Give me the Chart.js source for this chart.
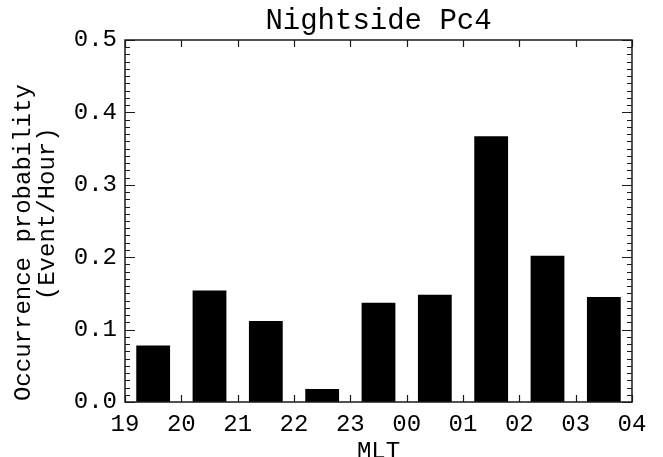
<!DOCTYPE html>
<html>
<head>
<meta charset="utf-8">
<script src="https://cdn.jsdelivr.net/npm/chart.js@4/dist/chart.umd.min.js"></script>
<style>
  html, body { margin: 0; padding: 0; background: #fff; }
  canvas { display: block; }
</style>
</head>
<body>
<canvas id="chart" width="663" height="457"></canvas>
<script>
/* ================= DATA ================= */
const hourLabels = ["19", "20", "21", "22", "23", "00", "01", "02", "03", "04"];
const binLabels = hourLabels.slice(0, -1).map((h, i) => h + "-" + hourLabels[i + 1]);
const occurrence = [0.078, 0.154, 0.112, 0.018, 0.137, 0.148, 0.367, 0.202, 0.145];

const FONT = "'Liberation Mono', 'Courier New', monospace";

/* ================= FRAME + INWARD TICKS ================= */
const frameTicks = {
  id: "frameTicks",
  afterDatasetsDraw(chart) {
    const { ctx, chartArea: a, scales } = chart;
    const y = scales.y;
    const h = scales.hours;

    ctx.save();
    ctx.strokeStyle = "#1a1a1a";
    ctx.lineWidth = 1.5;
    ctx.strokeRect(a.left, a.top, a.right - a.left, a.bottom - a.top);

    ctx.lineWidth = 1.2;
    ctx.beginPath();
    // minor every 0.01, major every 0.1
    for (let k = 0; k <= 50; k++) {
      const py = Math.round(y.getPixelForValue(k / 100)) + 0.5;
      const len = k % 10 === 0 ? 10 : 5;
      ctx.moveTo(a.left, py);  ctx.lineTo(a.left + len, py);
      ctx.moveTo(a.right, py); ctx.lineTo(a.right - len, py);
    }
    for (let i = 0; i < hourLabels.length; i++) {
      const px = Math.round(h.getPixelForValue(i)) + 0.5;
      ctx.moveTo(px, a.bottom); ctx.lineTo(px, a.bottom - 7);
      ctx.moveTo(px, a.top);    ctx.lineTo(px, a.top + 7);
    }
    ctx.stroke();
    ctx.restore();
  }
};

/* ================= CHART ================= */
new Chart(document.getElementById("chart"), {
  type: "bar",
  data: {
    labels: binLabels,
    datasets: [{
      data: occurrence,
      backgroundColor: "#000",
      borderWidth: 0,
      barPercentage: 0.6,
      categoryPercentage: 1
    }]
  },
  options: {
    responsive: false,
    animation: false,
    devicePixelRatio: 1,
    layout: { padding: { left: 0, right: 31, top: 0, bottom: 0 } },
    plugins: {
      legend: { display: false },
      tooltip: { enabled: false }
    },
    scales: {
      x: { type: "category", display: false },
      hours: {
        type: "linear",
        position: "bottom",
        offset: false,
        min: 0,
        max: hourLabels.length - 1,
        grid: { display: false, drawTicks: false, offset: false },
        border: { display: false },
        ticks: {
          stepSize: 1,
          autoSkip: false,
          maxRotation: 0,
          padding: 8,
          color: "#000",
          font: { family: FONT, size: 24 },
          callback: v => hourLabels[v]
        },
        title: {
          display: true,
          text: "MLT",
          color: "#000",
          padding: 0,
          font: { family: FONT, size: 24, lineHeight: "11px" }
        },
        afterFit: s => { s.height = 55; }
      },
      top: {
        type: "linear",
        position: "top",
        offset: false,
        min: 0,
        max: 1,
        grid: { display: false, drawTicks: false, offset: false },
        border: { display: false },
        ticks: { display: false },
        title: {
          display: true,
          text: "Nightside Pc4",
          color: "#000",
          padding: { top: 7, bottom: 0 },
          font: { family: FONT, size: 29, lineHeight: "29px" }
        },
        afterFit: s => { s.height = 40; }
      },
      y: {
        min: 0,
        max: 0.5,
        grid: { display: false, drawTicks: false },
        border: { display: false },
        ticks: {
          stepSize: 0.1,
          padding: 8,
          color: "#000",
          font: { family: FONT, size: 24 },
          callback: v => v.toFixed(1)
        },
        title: {
          display: true,
          text: ["Occurrence probability   ", " (Event/Hour)"],
          color: "#000",
          padding: { top: 12, bottom: 0 },
          font: { family: FONT, size: 24, lineHeight: "24px" }
        },
        afterFit: s => { s.width = 125; }
      }
    }
  },
  plugins: [frameTicks]
});
</script>
</body>
</html>
